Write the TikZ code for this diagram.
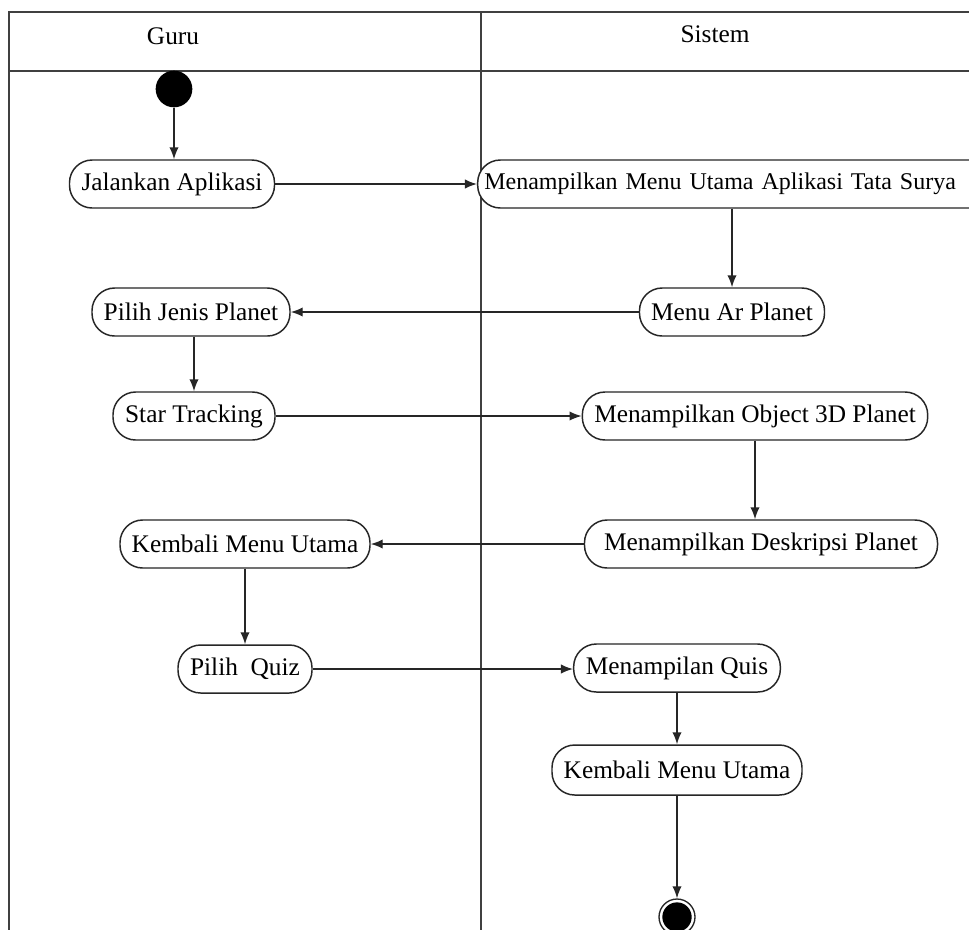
\documentclass[tikz,border=0pt]{standalone}
\usepackage{fontspec}
\setmainfont{Liberation Serif}
\usetikzlibrary{arrows.meta,calc}
\tikzset{
  act/.style={draw=black!85, line width=1.1pt, rounded corners=17pt, minimum height=36pt, inner sep=0pt, font=\fontsize{19pt}{22pt}\selectfont, fill=white},
  lane/.style={draw=black!75, line width=1.4pt},
  flow/.style={draw=black!85, line width=1.1pt, -{Latex[length=9pt,width=7pt]}},
  lbl/.style={font=\fontsize{19pt}{22pt}\selectfont, inner sep=0pt},
  startnode/.style={circle, fill=black, minimum size=27.5pt, inner sep=0pt},
  endnode/.style={circle, draw=black!85, line width=1pt, minimum size=27pt, inner sep=0pt,
    path picture={\fill[black] (path picture bounding box.center) circle (11pt);}}
}
\begin{document}
\begin{tikzpicture}[x=0.75pt,y=-0.75pt]
\useasboundingbox (0,0) rectangle (969,929);
\clip (0,0) rectangle (969,929);
\fill[white] (0,0) rectangle (969,929);
% frame
\draw[lane] (1010,12) -- (9,12) -- (9,960);
\draw[lane] (9,71) -- (1010,71);
\draw[lane] (481,12) -- (481,960);
\node[lbl] (guru) at (173,36) {Guru};
\node[lbl] (sistem) at (715,34) {Sistem};
% nodes
\node[startnode] (start) at (174,89) {};
\node[act, minimum width=153.75pt] (jal) at (172,184) {Jalankan Aplikasi};
\node[act, align=left, text width=382pt, inner xsep=5pt, font=\fontsize{18pt}{22pt}\selectfont] (menu) at (739,184) {Menampilkan Menu Utama Aplikasi Tata Surya};
\node[act, minimum width=138.75pt] (menuar) at (732,312) {Menu Ar Planet};
\node[act, minimum width=148.5pt] (pilih) at (191,312) {Pilih Jenis Planet};
\node[act, minimum width=121.5pt] (star) at (194,416) {Star Tracking};
\node[act, minimum width=259pt] (obj) at (755,416) {Menampilkan Object 3D Planet};
\node[act, minimum width=264.75pt] (desk) at (761,544) {Menampilkan Deskripsi Planet};
\node[act, minimum width=187.5pt] (kemb1) at (245,544) {Kembali Menu Utama};
\node[act, minimum width=100.5pt] (quiz) at (245,669) {Pilih\ \ Quiz};
\node[act, minimum width=155pt] (mquis) at (677,668) {Menampilan Quis};
\node[act, minimum width=187.5pt, minimum height=37.5pt] (kemb2) at (677,770) {Kembali Menu Utama};
\node[endnode] (end) at (677,917) {};
% connectors
\draw[flow] (start) -- (start |- jal.north);
\draw[flow] (jal.east) -- (menu.west);
\draw[flow] (menuar.north |- menu.south) -- (menuar.north);
\draw[flow] (menuar.west) -- (pilih.east);
\draw[flow] (star.north |- pilih.south) -- (star.north);
\draw[flow] (star.east) -- (obj.west);
\draw[flow] (obj.south) -- (obj.south |- desk.north);
\draw[flow] (desk.west) -- (kemb1.east);
\draw[flow] (kemb1.south) -- (quiz.north);
\draw[flow] (quiz.east) -- (quiz.east -| mquis.west);
\draw[flow] (mquis.south) -- (kemb2.north);
\draw[flow] (kemb2.south) -- (end.north);
\end{tikzpicture}
\end{document}
